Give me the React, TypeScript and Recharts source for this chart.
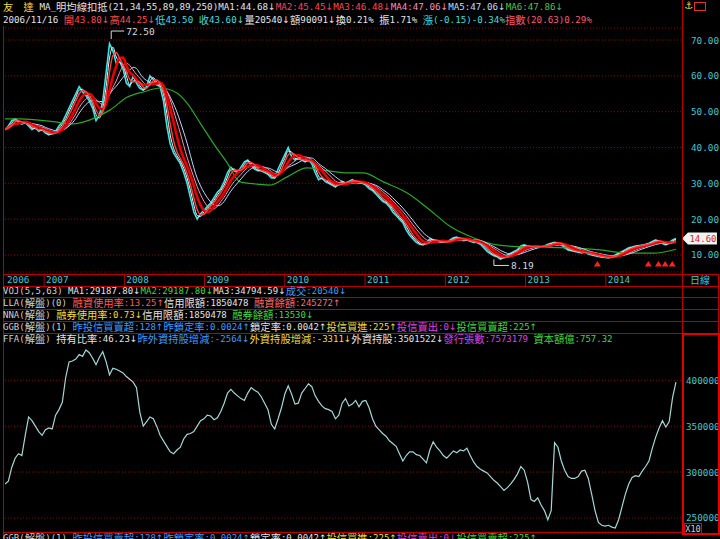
import React from "react";
import { ComposedChart, Line, XAxis, YAxis, CartesianGrid, ReferenceDot } from "recharts";

// half-monthly closes, Jul 2006 .. Nov 2014
const closePrices = [
  45, 46, 47.5, 48, 47, 46.5, 47, 46, 45, 45.5,
  44.5, 45, 44, 43.5, 44, 44.5, 46, 47, 49, 51,
  53, 55, 57, 55.5, 54.5, 53, 51, 47.5, 49, 53,
  61, 69, 67, 63.5, 64, 62, 58, 57, 60, 58,
  56.5, 56, 57, 60, 59, 57.5, 57, 53, 46, 41,
  38.5, 37, 35.5, 33, 30, 26, 22, 20, 21.5, 22.5,
  23.5, 24.5, 26, 27.5, 28.5, 30.5, 33, 34.5, 33.5, 33,
  34.5, 36, 36.5, 35, 34, 33.5, 33.5, 33, 32.5, 31.5,
  31.5, 34, 36, 38, 40, 37.5, 36.5, 37, 36.5, 36,
  36.5, 35.5, 33, 31, 31.5, 30.5, 30, 29.5, 29, 30,
  30.5, 30, 30.5, 31, 30.5, 30, 30, 29.5, 28.5, 28,
  27, 26, 25, 24.5, 23.5, 22, 21, 20, 19, 17,
  15.5, 14.5, 13.5, 13, 12.8, 13.5, 14.5, 14.2, 13.8, 13.5,
  13.8, 13.6, 14.2, 14.8, 15, 14.5, 14, 14.2, 13.8, 13.5,
  13.5, 13, 12, 11, 10.3, 9.8, 9.5, 8.8, 9.5, 10,
  10.5, 11, 11.5, 12.5, 12.8, 12.5, 12, 12.3, 12.5, 12.2,
  12.5, 13, 13.3, 13.5, 13.3, 12.8, 12, 11.4, 11.2, 11,
  10.8, 10.6, 10.8, 10.3, 10, 9.8, 9.6, 9.4, 9.3, 9.2,
  9.6, 10, 10.5, 11, 11.5, 12, 12.2, 12.5, 12.6, 12.8,
  13, 13.3, 13.8, 14.2, 13.8, 13.2, 12.8, 13.5, 14.2, 14.6,
];

// 250 day average (green), sampled where it bends
const ma250Index = [0, 4.5, 14.2, 20.2, 25.2, 31.2, 36.2, 41, 46, 51, 54, 57.9, 61.7, 65.9, 69.7, 74.8, 78.6, 83.7, 89.6, 94.4, 101.5, 106.2, 112.2, 119.3, 126.1, 132, 138.9, 146, 154.9, 166.8, 176.6, 184.6, 192.3, 199];
const ma250Values = [48, 48, 47.2, 46.6, 47.7, 50.5, 54, 55.5, 56.6, 55.2, 52.4, 46.8, 41.3, 35.7, 30.4, 29.8, 29.5, 31.8, 34.3, 33.7, 32.9, 32.9, 30.4, 27.3, 22.5, 18, 14.8, 12.8, 12.2, 12, 11.4, 10.5, 10.5, 11.6];

// foreign holdings (thousand lots), same half-monthly dates
const ffaThousands = [
  287, 290, 305, 315, 320, 318, 340, 360, 356, 350,
  344, 340, 346, 348, 347, 362, 368, 376, 403, 420,
  421, 423, 428, 426, 433, 430, 424, 417, 425, 431,
  420, 406, 413, 412, 410, 408, 404, 401, 398, 392,
  365, 350, 355, 360, 358, 350, 340, 334, 328, 322,
  320, 324, 327, 336, 341, 342, 344, 350, 356, 358,
  362, 361, 357, 359, 366, 375, 386, 390, 386, 383,
  380, 378, 386, 392, 389, 387, 382, 375, 368, 352,
  347, 358, 370, 385, 394, 385, 374, 375, 386, 391,
  396, 393, 383, 377, 372, 369, 368, 366, 358, 362,
  375, 380, 372, 374, 378, 371, 377, 378, 370, 358,
  350, 346, 342, 339, 334, 331, 328, 320, 312, 318,
  322, 322, 319, 318, 314, 310, 324, 333, 327, 323,
  318, 315, 319, 323, 321, 324, 323, 326, 318, 311,
  306, 303, 301, 299, 295, 291, 288, 284, 280, 283,
  287, 292, 298, 306, 302, 289, 270, 268, 272, 264,
  258, 248, 258, 332, 327, 312, 302, 295, 293, 293,
  295, 301, 302, 293, 276, 258, 245, 242, 241, 242,
  240, 239, 248, 262, 276, 287, 294, 296, 295, 301,
  306, 312, 326, 338, 348, 356, 349, 355, 381, 398,
];

const yearTickIndex = [0, 11.6, 35.4, 59.2, 83.0, 106.8, 130.6, 154.4, 178.2];
const yearLabels = ["2006", "2007", "2008", "2009", "2010", "2011", "2012", "2013", "2014"];
const priceTicks = [10, 20, 30, 40, 50, 60, 70];
const ffaTicks = [250000, 300000, 350000, 400000];
const buyMarkIndex = [175.7, 190.8, 193.8, 195.8, 197.9];
const highPoint = { i: 31.5, v: 72.5 };
const lowPoint = { i: 145, v: 8.19 };
const lastClose = 14.6;
const X_DOMAIN = [0, 200.5];

const movingAvg = (vals: number[], n: number) =>
  vals.map((_, i) => {
    const s = vals.slice(Math.max(0, i - n + 1), i + 1);
    return s.reduce((a, b) => a + b, 0) / s.length;
  });

const ma1 = movingAvg(closePrices, 2);
const ma2 = movingAvg(closePrices, 3);
const ma3 = movingAvg(closePrices, 5);
const ma4 = movingAvg(closePrices, 7);
const ma5 = movingAvg(closePrices, 9);

const priceData = closePrices.map((c, i) => ({ i, close: c, ma1: ma1[i], ma2: ma2[i], ma3: ma3[i], ma4: ma4[i], ma5: ma5[i] }));
const ma250Data = ma250Index.map((i, k) => ({ i, ma6: ma250Values[k] }));
const ffaData = ffaThousands.map((v, i) => ({ i, v: v * 1000 }));

const MONO = '"DejaVu Sans Mono", monospace';
const CJK = '"Noto Sans CJK TC", "Noto Sans CJK SC", sans-serif';
const W = "#e4e4e4";
const GREY = "#cfcfcf";
const RED = "#ff4a4a";
const CY = "#3fdede";
const BL = "#3d9cff";
const YE = "#eedd40";
const MG = "#e040e0";
const GR = "#40d840";
const PK = "#ff8cb8";
const TEAL = "#44c4cc";
const FRAME = "#b80000";
const GRID = "#8a0000";

type Seg = [string, string];

const header1: Seg[] = [["友　達 ", YE], ["MA_明均線扣抵(21,34,55,89,89,250)", W], ["MA1:44.68↓", W], ["MA2:45.45↓", "#ff4060"], ["MA3:46.48↓", RED], ["MA4:47.06↓", PK], ["MA5:47.06↓", "#bcdcff"], ["MA6:47.86↓", "#50c050"]];
const header2: Seg[] = [["2006/11/16 ", W], ["開43.80↓", RED], ["高44.25↓", RED], ["低43.50 ", CY], ["收43.60↓", CY], ["量20540↓", W], ["額90091↓", W], ["換0.21% ", W], ["振1.71% ", W], ["漲(-0.15)-0.34%", CY], ["指數(20.63)0.29%", "#ff5a6a"]];
const rowVOJ: Seg[] = [["VOJ(5,5,63) ", GREY], ["MA1:29187.80↓", W], ["MA2:29187.80↓", GR], ["MA3:34794.59↓", W], ["成交:20540↓", BL]];
const rowLLA: Seg[] = [["LLA(解盤)(0) ", GREY], ["融資使用率:13.25↑", "#ff5a5a"], ["信用限額:1850478 ", W], ["融資餘額:245272↑", "#ff6a6a"]];
const rowNNA: Seg[] = [["NNA(解盤) ", GREY], ["融券使用率:0.73↓", YE], ["信用限額:1850478 ", W], ["融券餘額:13530↓", GR]];
const rowGGB: Seg[] = [["GGB(解盤)(1) ", GREY], ["昨投信買賣超:128↑", BL], ["昨鎖定率:0.0024↑", BL], ["鎖定率:0.0042↑", W], ["投信買進:225↑", YE], ["投信賣出:0↓", MG], ["投信買賣超:225↑", GR]];
const rowFFA: Seg[] = [["FFA(解盤) ", GREY], ["持有比率:46.23↓", W], ["昨外資持股增減:-2564↓", BL], ["外資持股增減:-3311↓", YE], ["外資持股:3501522↓", W], ["發行張數:7573179 ", MG], ["資本額億:757.32", GR]];

// split a string into runs so CJK glyphs and arrows get their own font
const CJK_RE = /[\u3000-\u9fff\uff00-\uffef]/;
const runs = (t: string) => t.match(/[\u3000-\u9fff\uff00-\uffef]+|[↑↓]|[^\u3000-\u9fff\uff00-\uffef↑↓]+/g) || [];

const runBox = { display: "inline-block", height: 12, lineHeight: "12px", verticalAlign: "top" } as const;

const TextRow = ({ segs, top, size = 9 }: { segs: Seg[]; top: number; size?: number }) => (
  <div style={{ position: "absolute", left: 3, top, height: 12, lineHeight: "12px", whiteSpace: "pre", fontFamily: MONO, fontSize: size }}>
    {segs.map(([t, c], k) =>
      runs(t).map((r, j) => {
        const font = /[↑↓]/.test(r)
          ? { fontFamily: '"DejaVu Sans", sans-serif', fontSize: size }
          : CJK_RE.test(r)
          ? { fontFamily: CJK, fontSize: 10.3 }
          : {};
        return (
          <span key={`${k}-${j}`} style={{ ...runBox, ...font, color: c }}>
            {r}
          </span>
        );
      })
    )}
  </div>
);

const HLine = ({ y, x1 = 3, x2 = 718, color = FRAME }: { y: number; x1?: number; x2?: number; color?: string }) => (
  <div style={{ position: "absolute", left: x1, top: y, width: x2 - x1, height: 1, background: color }} />
);
const VLine = ({ x, y1, y2, color = FRAME }: { x: number; y1: number; y2: number; color?: string }) => (
  <div style={{ position: "absolute", left: x, top: y1, width: 1, height: y2 - y1, background: color }} />
);

const YearTick = (props: any) => {
  const { x, y, index } = props;
  return (
    <g>
      {index > 0 && <line x1={x} x2={x} y1={y + 2} y2={y + 14} stroke={FRAME} />}
      <text x={x + 2} y={y + 10.5} fill={TEAL} fontSize={9.3} fontFamily={MONO}>
        {yearLabels[index]}
      </text>
    </g>
  );
};

const PriceTick = (props: any) => (
  <text x={props.x + 10} y={props.y + 3.5} fill={TEAL} fontSize={9.3} fontFamily={MONO}>
    {Number(props.payload.value).toFixed(2)}
  </text>
);

const FfaTick = (props: any) => (
  <text x={props.x + 5} y={props.y + 3.5} fill={TEAL} fontSize={9.3} fontFamily={MONO}>
    {props.payload.value}
  </text>
);

const BuyMark = (props: any) => (
  <polygon points={`${props.cx - 3.5},${props.cy + 2.5} ${props.cx + 3.5},${props.cy + 2.5} ${props.cx},${props.cy - 3}`} fill="#ff2020" />
);

const HighLabel = (props: any) => (
  <g>
    <path d={`M${props.cx},${props.cy + 8} V${props.cy} H${props.cx + 13}`} stroke="#d8d8d8" fill="none" />
    <text x={props.cx + 15} y={props.cy + 3.5} fill="#d8d8d8" fontSize={9.5} fontFamily={MONO}>72.50</text>
  </g>
);

const LowLabel = (props: any) => (
  <g>
    <path d={`M${props.cx},${props.cy - 2} V${props.cy + 4} H${props.cx + 15}`} stroke="#d8d8d8" fill="none" />
    <text x={props.cx + 17} y={props.cy + 7.5} fill="#d8d8d8" fontSize={9.5} fontFamily={MONO}>8.19</text>
  </g>
);

const CloseTag = (props: any) => {
  const x0 = props.cx + 6;
  const y = props.cy;
  return (
    <g>
      <polygon points={`${x0},${y} ${x0 + 6},${y - 6} ${x0 + 35},${y - 6} ${x0 + 35},${y + 6} ${x0 + 6},${y + 6}`} fill="#f2f2f2" />
      <text x={x0 + 7.5} y={y + 3.5} fill="#e02020" fontSize={9} fontFamily={MONO}>14.60</text>
    </g>
  );
};

export default function App() {
  return (
    <div style={{ position: "relative", width: 720, height: 539, background: "#000", overflow: "hidden", fontFamily: MONO }}>
      <style>{"body{margin:0;background:#000}"}</style>

      <div style={{ position: "absolute", left: 0, top: 0 }}>
        <ComposedChart width={720} height={286} data={priceData} margin={{ top: 28, right: 1, bottom: 0, left: 5 }}>
          <CartesianGrid vertical={false} stroke={GRID} strokeDasharray="1 2" />
          <XAxis
            type="number"
            dataKey="i"
            domain={X_DOMAIN}
            ticks={yearTickIndex}
            interval={0}
            height={14}
            tickSize={0}
            tickMargin={0}
            axisLine={false}
            tick={(p: any) => <YearTick {...p} />}
            allowDataOverflow
          />
          <YAxis
            orientation="right"
            width={38}
            domain={[5.25, 73.35]}
            ticks={priceTicks}
            interval={0}
            tickSize={0}
            tickMargin={0}
            axisLine={false}
            tick={(p: any) => <PriceTick {...p} />}
            allowDataOverflow
          />
          <Line dataKey="close" type="linear" stroke="#3ee4e4" strokeWidth={1.6} dot={false} isAnimationActive={false} />
          <Line dataKey="ma1" type="monotone" stroke="#f4f4f4" strokeWidth={1} dot={false} isAnimationActive={false} />
          <Line data={ma250Data} dataKey="ma6" type="monotone" stroke="#28a828" strokeWidth={1.2} dot={false} isAnimationActive={false} />
          <Line dataKey="ma5" type="monotone" stroke="#b8d8ff" strokeWidth={1} dot={false} isAnimationActive={false} />
          <Line dataKey="ma4" type="monotone" stroke="#ff90b0" strokeWidth={1} dot={false} isAnimationActive={false} />
          <Line dataKey="ma3" type="monotone" stroke="#e80000" strokeWidth={2.6} dot={false} isAnimationActive={false} />
          <Line dataKey="ma2" type="monotone" stroke="#ff4040" strokeWidth={1.4} dot={false} isAnimationActive={false} />
          {buyMarkIndex.map((i) => (
            <ReferenceDot key={i} x={i} y={7.5} r={3} ifOverflow="visible" shape={(p: any) => <BuyMark {...p} />} />
          ))}
          <ReferenceDot x={highPoint.i} y={highPoint.v} r={1} ifOverflow="visible" shape={(p: any) => <HighLabel {...p} />} />
          <ReferenceDot x={lowPoint.i} y={lowPoint.v} r={1} ifOverflow="visible" shape={(p: any) => <LowLabel {...p} />} />
          <ReferenceDot x={199} y={lastClose} r={1} ifOverflow="visible" shape={(p: any) => <CloseTag {...p} />} />
        </ComposedChart>
      </div>

      <div style={{ position: "absolute", left: 0, top: 333 }}>
        <ComposedChart width={720} height={199} data={ffaData} margin={{ top: 0, right: 1, bottom: 0, left: 5 }}>
          <CartesianGrid vertical={false} stroke={GRID} strokeDasharray="1 2" />
          <XAxis type="number" dataKey="i" domain={X_DOMAIN} hide allowDataOverflow />
          <YAxis
            orientation="right"
            width={38}
            domain={[234670, 451460]}
            ticks={ffaTicks}
            interval={0}
            tickSize={0}
            tickMargin={0}
            axisLine={false}
            tick={(p: any) => <FfaTick {...p} />}
            allowDataOverflow
          />
          <Line dataKey="v" type="linear" stroke="#a6d6d6" strokeWidth={1.2} dot={false} isAnimationActive={false} />
        </ComposedChart>
      </div>

      {/* frame */}
      <VLine x={3} y1={26} y2={539} />
      <VLine x={682} y1={0} y2={333} />
      <VLine x={718} y1={274} y2={333} />
      <HLine y={274} />
      <HLine y={286} />
      <HLine y={297} />
      <HLine y={309} />
      <HLine y={321} />
      <HLine y={333} x2={682} />
      <HLine y={532} x2={682} />
      <div style={{ position: "absolute", left: 682, top: 333, width: 34, height: 198, border: "2px solid #e00000" }} />
      <div style={{ position: "absolute", left: 684, top: 523, width: 16, height: 10, border: "1px solid #e00000", color: "#cfcfcf", fontSize: 8.5, lineHeight: "10px", textAlign: "center" }}>X10</div>

      <div style={{ position: "absolute", left: 690, top: 273, color: TEAL, fontSize: 10, lineHeight: "14px", fontFamily: CJK }}>日線</div>
      <div style={{ position: "absolute", left: 684, top: 0, color: YE, fontSize: 10, lineHeight: "12px", fontFamily: '"DejaVu Sans", sans-serif' }}>⚓</div>
      <div style={{ position: "absolute", left: 694, top: 2, width: 10, height: 7, border: "1px solid #e03030" }} />

      <TextRow segs={header1} top={1} size={9.2} />
      <TextRow segs={header2} top={14} size={9.2} />
      <TextRow segs={rowVOJ} top={285} />
      <TextRow segs={rowLLA} top={297} />
      <TextRow segs={rowNNA} top={309} />
      <TextRow segs={rowGGB} top={321} />
      <TextRow segs={rowFFA} top={333} />
      <TextRow segs={rowGGB} top={532} />
    </div>
  );
}
